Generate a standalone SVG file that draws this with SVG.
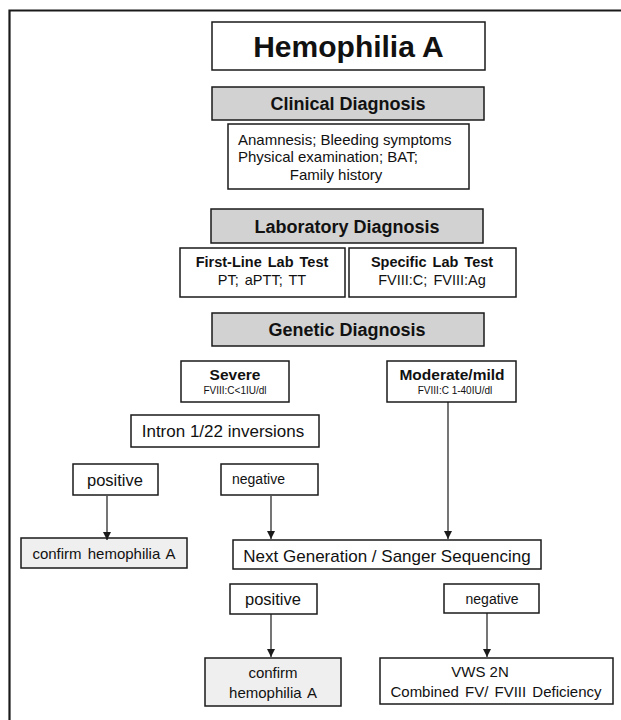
<svg xmlns="http://www.w3.org/2000/svg" width="621" height="720" viewBox="0 0 621 720">
<defs>
<style>
.box{fill:#ffffff;stroke:#1a1a1a;stroke-width:1.5}
.hdr{fill:#d2d2d2;stroke:#1a1a1a;stroke-width:1.5}
.lt{fill:#efefef;stroke:#1a1a1a;stroke-width:1.5}
text{font-family:"Liberation Sans",Arial,sans-serif;fill:#111111}
.b{font-weight:bold}
.c{text-anchor:middle}
.con{stroke:#1a1a1a;stroke-width:1.2;fill:none}
</style>
<marker id="ah" viewBox="0 0 10 10" refX="10" refY="5" markerWidth="8" markerHeight="8" markerUnits="userSpaceOnUse" orient="auto">
<path d="M0,0 L10,5 L0,10 z" fill="#1a1a1a"/>
</marker>
</defs>
<rect width="621" height="720" fill="#ffffff"/>
<path d="M9.5 720 V10.5 H621" fill="none" stroke="#1a1a1a" stroke-width="2.2"/>

<g id="title">
<rect class="box" x="212" y="22" width="273" height="48"/>
<text class="b c" x="348.5" y="57" font-size="30">Hemophilia A</text>
</g>
<g id="clinical">
<rect class="hdr" x="212" y="87" width="272" height="33"/>
<text class="b c" x="348" y="110" font-size="18">Clinical Diagnosis</text>
</g>
<g id="clinical-details">
<rect class="box" x="228" y="124" width="241" height="65"/>
<text x="238" y="145" font-size="15">Anamnesis; Bleeding symptoms</text>
<text x="238" y="162" font-size="15">Physical examination; BAT;</text>
<text class="c" x="336" y="180" font-size="15">Family history</text>
</g>
<g id="laboratory">
<rect class="hdr" x="211" y="209" width="272" height="34"/>
<text class="b c" x="347" y="232.5" font-size="18">Laboratory Diagnosis</text>
</g>
<g id="first-line">
<rect class="box" x="180" y="248" width="165" height="49"/>
<text class="b c" x="262" y="267" font-size="14.5" word-spacing="2">First-Line Lab Test</text>
<text class="c" x="262" y="285" font-size="14.5" word-spacing="2">PT; aPTT; TT</text>
</g>
<g id="specific">
<rect class="box" x="349" y="248" width="167" height="49"/>
<text class="b c" x="432" y="267" font-size="14.5" word-spacing="2">Specific Lab Test</text>
<text class="c" x="432" y="285" font-size="14.5" word-spacing="2">FVIII:C; FVIII:Ag</text>
</g>
<g id="genetic">
<rect class="hdr" x="212" y="313" width="272" height="33"/>
<text class="b c" x="347" y="336" font-size="18">Genetic Diagnosis</text>
</g>
<g id="severe">
<rect class="box" x="181" y="361" width="108" height="41"/>
<text class="b c" x="235" y="380" font-size="15.5">Severe</text>
<text class="c" x="235" y="394" font-size="10">FVIII:C&lt;1IU/dl</text>
</g>
<g id="moderate">
<rect class="box" x="387" y="361" width="129" height="41"/>
<text class="b c" x="452" y="380" font-size="15.5">Moderate/mild</text>
<text class="c" x="455" y="394" font-size="10">FVIII:C 1-40IU/dl</text>
</g>
<g id="intron">
<rect class="box" x="131" y="415" width="188" height="32"/>
<text class="c" x="223" y="437" font-size="17">Intron 1/22 inversions</text>
</g>
<g id="positive1">
<rect class="box" x="73" y="464" width="85" height="31"/>
<text class="c" x="115" y="486" font-size="16.5">positive</text>
</g>
<g id="negative1">
<rect class="box" x="221" y="464" width="97" height="31"/>
<text x="232" y="484" font-size="14">negative</text>
</g>
<g id="confirm1">
<rect class="lt" x="21" y="538" width="166" height="30"/>
<text class="c" x="104" y="559" font-size="15" word-spacing="2">confirm hemophilia A</text>
</g>
<g id="sequencing">
<rect class="box" x="233" y="540" width="308" height="29"/>
<text class="c" x="387" y="562" font-size="17">Next Generation / Sanger Sequencing</text>
</g>
<g id="positive2">
<rect class="box" x="230" y="584" width="87" height="30"/>
<text class="c" x="273" y="605" font-size="16.5">positive</text>
</g>
<g id="negative2">
<rect class="box" x="444" y="584" width="95" height="29"/>
<text class="c" x="492" y="604" font-size="14">negative</text>
</g>
<g id="confirm2">
<rect class="lt" x="205" y="658" width="136" height="48"/>
<text class="c" x="273" y="678" font-size="15">confirm</text>
<text class="c" x="273" y="698" font-size="15" word-spacing="2">hemophilia A</text>
</g>
<g id="vws">
<rect class="box" x="380" y="658" width="233" height="46"/>
<text class="c" x="480" y="677" font-size="15">VWS 2N</text>
<text class="c" x="496" y="697" font-size="15" word-spacing="2">Combined FV/ FVIII Deficiency</text>
</g>

<g id="connectors">
<line class="con" x1="107" y1="496" x2="107" y2="540" marker-end="url(#ah)"/>
<line class="con" x1="271" y1="496" x2="271" y2="539" marker-end="url(#ah)"/>
<line class="con" x1="448" y1="402" x2="448" y2="539" marker-end="url(#ah)"/>
<line class="con" x1="271" y1="614" x2="271" y2="657" marker-end="url(#ah)"/>
<line class="con" x1="487" y1="613" x2="487" y2="657" marker-end="url(#ah)"/>
</g>
</svg>
